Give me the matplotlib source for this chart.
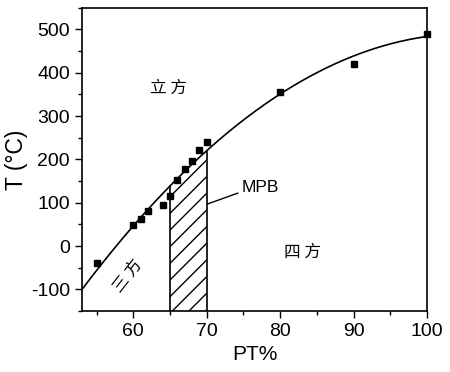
import numpy as np
import matplotlib
matplotlib.use("Agg")
import matplotlib.pyplot as plt
from matplotlib.ticker import MultipleLocator

plt.rcParams['font.family'] = ['Liberation Sans', 'Noto Sans CJK SC', 'DejaVu Sans']
plt.rcParams['axes.unicode_minus'] = False

pt = [55, 60, 61, 62, 64, 65, 66, 67, 68, 69, 70, 80, 90, 100]
temp = [-40, 48, 62, 80, 95, 115, 152, 178, 197, 222, 240, 356, 420, 490]

# points
curve_x = [53, 65, 70, 80, 90, 100]
curve_y = [-100, 139, 217, 355, 437, 484]

mpb_left, mpb_right = 65, 70

fig = plt.figure(figsize=(4.5, 3.72), dpi=100)
ax = fig.add_axes([0.182, 0.164, 0.767, 0.815])

coef = np.polyfit(curve_x, curve_y, 2)
xs = np.linspace(53, 100, 300)
ax.plot(xs, np.polyval(coef, xs), color='black', lw=1.2, zorder=3)

hx = np.linspace(mpb_left, mpb_right, 50)
ax.fill_between(hx, -150, np.polyval(coef, hx), facecolor='none', edgecolor='black',
                hatch='//', lw=0, zorder=2)
for xv in (mpb_left, mpb_right):
    ax.plot([xv, xv], [-150, np.polyval(coef, xv)], color='black', lw=1.2, zorder=3)

ax.plot(pt, temp, 's', color='black', markersize=4.5, zorder=4, clip_on=False)

ax.set_xlim(53, 100)
ax.set_ylim(-150, 550)
ax.xaxis.set_major_locator(MultipleLocator(10))
ax.xaxis.set_minor_locator(MultipleLocator(5))
ax.yaxis.set_major_locator(MultipleLocator(100))
ax.yaxis.set_minor_locator(MultipleLocator(50))
ax.tick_params(which='both', direction='out', top=False, right=False, labelsize=14)
ax.tick_params(which='major', length=5, width=1)
ax.tick_params(which='minor', length=3, width=1)
for s in ax.spines.values():
    s.set_linewidth(1.2)

ax.set_xlabel('PT%', fontsize=15, labelpad=4)
ax.set_ylabel('T (°C)', fontsize=16.5, labelpad=2)

ax.text(64.8, 365, '立 方', fontsize=12, ha='center', va='center', family=['Noto Sans CJK SC'])
ax.text(83, -14, '四 方', fontsize=12, ha='center', va='center', family=['Noto Sans CJK SC'])
ax.text(59.3, -70, '三 方', fontsize=12, ha='center', va='center', rotation=52,
        family=['Noto Sans CJK SC'])

ax.annotate('MPB', xy=(70.1, 97), xytext=(74.8, 136), fontsize=12.5, ha='left', va='center',
            arrowprops=dict(arrowstyle='-', color='black', lw=1, shrinkA=1, shrinkB=0,
                            relpos=(0, 0.2)))

fig.savefig('out.png', dpi=100)
